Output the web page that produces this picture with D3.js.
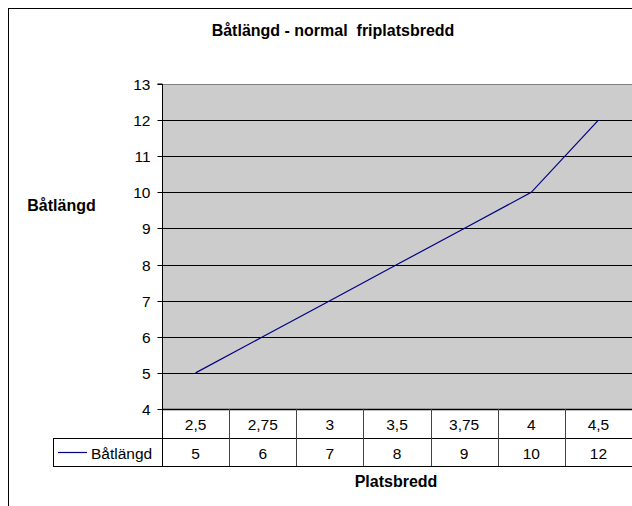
<!DOCTYPE html>
<html><head><meta charset="utf-8">
<script src="https://cdn.jsdelivr.net/npm/d3@7"></script>
<style>body{margin:0;background:#fff}svg{display:block}text{font-family:"Liberation Sans",Arial,sans-serif}</style>
</head><body>
<script>
const categories = ["2,5","2,75","3","3,5","3,75","4","4,5"];
const values = [5,6,7,8,9,10,12];
const yTicks = [4,5,6,7,8,9,10,11,12,13];
const seriesName = "Båtlängd";
const title = "Båtlängd - normal  friplatsbredd";
const yTitle = "Båtlängd";
const xTitle = "Platsbredd";

const W=632,H=506,FS="15.5px",FB="16px";
const svg=d3.select("body").append("svg").attr("width",W).attr("height",H);
svg.append("rect").attr("x",8.5).attr("y",8.5).attr("width",700).attr("height",600).attr("fill","#fff").attr("stroke","#000");

const L=162,R=632,T=84,B=409;
const x=d3.scaleBand().domain(categories).range([L,R]);
const y=d3.scaleLinear().domain([4,13]).range([B,T]);

svg.append("rect").attr("x",L).attr("y",T).attr("width",R-L).attr("height",B-T).attr("fill","#cccccc");
// gridlines
svg.append("g").selectAll("line").data(yTicks.filter(d=>d>4)).join("line")
 .attr("x1",L).attr("x2",R).attr("y1",d=>Math.round(y(d))+0.5).attr("y2",d=>Math.round(y(d))+0.5)
 .attr("stroke",d=>d===13?"#808080":"#000");
// y axis
const ya=svg.append("g").attr("transform",`translate(${L+0.5},0)`)
 .call(d3.axisLeft(y).tickValues(yTicks).tickSize(5).tickPadding(7).tickFormat(d=>d));
ya.select(".domain").attr("stroke","#000").attr("d",`M-5,${T}H0V${B}`);
ya.selectAll(".tick line").attr("stroke","#000");
ya.selectAll("text").attr("font-size",FS).attr("font-family","Liberation Sans, Arial").attr("fill","#000").attr("dy","0.36em");
ya.selectAll(".tick").attr("transform",d=>`translate(0,${Math.round(y(d))+0.5})`);

// line
const line=d3.line().x((d,i)=>x(categories[i])+x.bandwidth()/2).y(d=>y(d));
svg.append("path").datum(values).attr("d",line).attr("fill","none").attr("stroke","#000080").attr("stroke-width",1.2);

// data table
const r1=409,r2=438,r3=466,legL=53;
const tg=svg.append("g").attr("stroke","#000").attr("fill","none");
tg.append("line").attr("x1",L).attr("x2",R).attr("y1",r1+0.5).attr("y2",r1+0.5).attr("stroke-width",1.5);
tg.append("line").attr("x1",legL).attr("x2",R).attr("y1",r2+0.5).attr("y2",r2+0.5);
tg.append("line").attr("x1",legL).attr("x2",R).attr("y1",r3+0.5).attr("y2",r3+0.5);
tg.append("line").attr("x1",legL+0.5).attr("x2",legL+0.5).attr("y1",r2).attr("y2",r3);
tg.selectAll("line.v").data(categories).join("line").attr("class","v")
 .attr("x1",d=>Math.round(x(d))+0.5).attr("x2",d=>Math.round(x(d))+0.5).attr("y1",r1).attr("y2",r3)
 .attr("stroke",(d,i)=>i===0?"#000":"#444");
svg.append("g").selectAll("text").data(categories).join("text")
 .attr("x",d=>x(d)+x.bandwidth()/2).attr("y",430).attr("text-anchor","middle").attr("font-size",FS).text(d=>d);
svg.append("g").selectAll("text").data(values).join("text")
 .attr("x",(d,i)=>x(categories[i])+x.bandwidth()/2).attr("y",459).attr("text-anchor","middle").attr("font-size",FS).text(d=>d);
svg.append("line").attr("x1",58).attr("x2",87).attr("y1",452.5).attr("y2",452.5).attr("stroke","#000080").attr("stroke-width",1.2);
svg.append("text").attr("x",91).attr("y",459).attr("font-size",FS).text(seriesName);

// titles
svg.append("text").attr("x",333).attr("y",36).attr("text-anchor","middle").attr("font-size",FB).attr("font-weight","bold").style("white-space","pre").text(title);
svg.append("text").attr("x",61.5).attr("y",211).attr("text-anchor","middle").attr("font-size",FB).attr("font-weight","bold").text(yTitle);
svg.append("text").attr("x",396).attr("y",487).attr("text-anchor","middle").attr("font-size",FB).attr("font-weight","bold").text(xTitle);
</script>
</body></html>
